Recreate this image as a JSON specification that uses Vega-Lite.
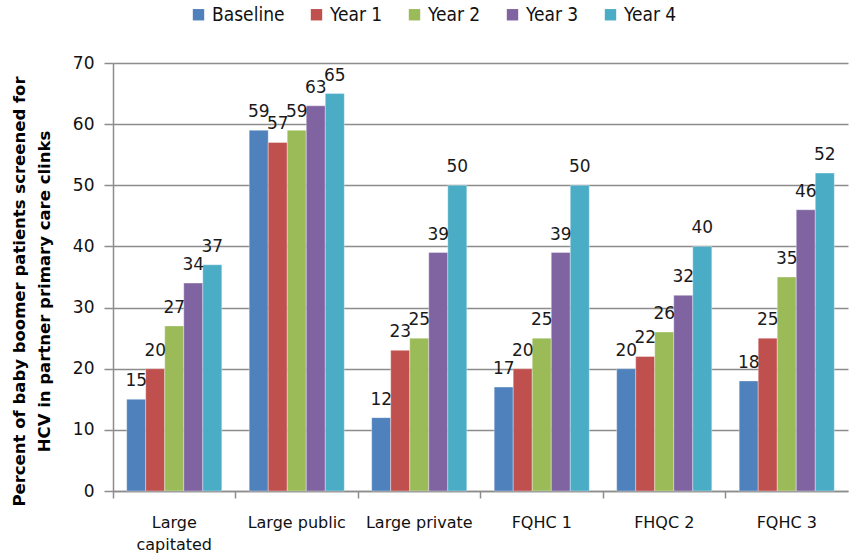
{
  "$schema": "https://vega.github.io/schema/vega-lite/v6.json",
  "width": 735,
  "height": 428,
  "autosize": {"type": "none"},
  "padding": {"left": 113, "top": 63, "right": 3, "bottom": 69},
  "background": "white",
  "config": {
    "view": {"stroke": null},
    "font": "DejaVu Sans"
  },
  "data": {
    "values": [
      {"clinic": "Large capitated", "period": "Baseline", "value": 15},
      {"clinic": "Large capitated", "period": "Year 1", "value": 20},
      {"clinic": "Large capitated", "period": "Year 2", "value": 27},
      {"clinic": "Large capitated", "period": "Year 3", "value": 34},
      {"clinic": "Large capitated", "period": "Year 4", "value": 37},
      {"clinic": "Large public", "period": "Baseline", "value": 59},
      {"clinic": "Large public", "period": "Year 1", "value": 57},
      {"clinic": "Large public", "period": "Year 2", "value": 59},
      {"clinic": "Large public", "period": "Year 3", "value": 63},
      {"clinic": "Large public", "period": "Year 4", "value": 65},
      {"clinic": "Large private", "period": "Baseline", "value": 12},
      {"clinic": "Large private", "period": "Year 1", "value": 23},
      {"clinic": "Large private", "period": "Year 2", "value": 25},
      {"clinic": "Large private", "period": "Year 3", "value": 39},
      {"clinic": "Large private", "period": "Year 4", "value": 50},
      {"clinic": "FQHC 1", "period": "Baseline", "value": 17},
      {"clinic": "FQHC 1", "period": "Year 1", "value": 20},
      {"clinic": "FQHC 1", "period": "Year 2", "value": 25},
      {"clinic": "FQHC 1", "period": "Year 3", "value": 39},
      {"clinic": "FQHC 1", "period": "Year 4", "value": 50},
      {"clinic": "FHQC 2", "period": "Baseline", "value": 20},
      {"clinic": "FHQC 2", "period": "Year 1", "value": 22},
      {"clinic": "FHQC 2", "period": "Year 2", "value": 26},
      {"clinic": "FHQC 2", "period": "Year 3", "value": 32},
      {"clinic": "FHQC 2", "period": "Year 4", "value": 40},
      {"clinic": "FQHC 3", "period": "Baseline", "value": 18},
      {"clinic": "FQHC 3", "period": "Year 1", "value": 25},
      {"clinic": "FQHC 3", "period": "Year 2", "value": 35},
      {"clinic": "FQHC 3", "period": "Year 3", "value": 46},
      {"clinic": "FQHC 3", "period": "Year 4", "value": 52}
    ]
  },
  "encoding": {
    "x": {
      "field": "clinic",
      "type": "nominal",
      "sort": ["Large capitated", "Large public", "Large private", "FQHC 1", "FHQC 2", "FQHC 3"],
      "scale": {"paddingInner": 0, "paddingOuter": 0},
      "axis": {
        "title": null,
        "labelAngle": 0,
        "bandPosition": 0,
        "domainColor": "#8c8c8c",
        "domainWidth": 1.5,
        "tickColor": "#8c8c8c",
        "tickWidth": 1.5,
        "tickSize": 7,
        "labelPadding": 16,
        "labelFontSize": 16,
        "labelColor": "#111111",
        "labelLineHeight": 22,
        "labelExpr": "datum.label == 'Large capitated' ? ['Large', 'capitated'] : datum.label"
      }
    },
    "xOffset": {
      "field": "period",
      "type": "nominal",
      "sort": ["Baseline", "Year 1", "Year 2", "Year 3", "Year 4"],
      "scale": {"paddingInner": 0, "paddingOuter": 0.72}
    },
    "y": {
      "field": "value",
      "type": "quantitative",
      "scale": {"domain": [0, 70]},
      "axis": {
        "values": [0, 10, 20, 30, 40, 50, 60, 70],
        "title": ["Percent of baby boomer patients screened for", "HCV in partner primary care clinks"],
        "titleFontSize": 16.5,
        "titleFontWeight": "bold",
        "titleColor": "#000000",
        "titleLineHeight": 25,
        "titleBaseline": "top",
        "titleX": -102,
        "titleY": 228,
        "titleAngle": -90,
        "labelFontSize": 17,
        "labelColor": "#111111",
        "labelPadding": 10,
        "tickSize": 9,
        "tickColor": "#8c8c8c",
        "tickWidth": 1.5,
        "domainColor": "#8c8c8c",
        "domainWidth": 1.5,
        "grid": true,
        "gridColor": "#8c8c8c",
        "gridWidth": 1.5
      }
    }
  },
  "layer": [
    {
      "mark": {"type": "bar", "stroke": "#ffffff", "strokeOpacity": 0.35, "strokeWidth": 1},
      "encoding": {
        "color": {
          "field": "period",
          "type": "nominal",
          "scale": {
            "domain": ["Baseline", "Year 1", "Year 2", "Year 3", "Year 4"],
            "range": ["#4F81BD", "#C0504D", "#9BBB59", "#8064A2", "#4BACC6"]
          },
          "legend": {
            "title": null,
            "orient": "none",
            "direction": "horizontal",
            "legendX": 76,
            "legendY": -58,
            "symbolType": "square",
            "symbolSize": 130,
            "symbolStrokeWidth": 0,
            "labelFont": "DejaVu Sans Condensed",
            "labelFontSize": 19,
            "labelColor": "#111111",
            "labelOffset": 4,
            "columnPadding": 22
          }
        }
      }
    },
    {
      "mark": {"type": "text", "baseline": "bottom", "dy": -9, "fontSize": 17, "color": "#1a1a1a"},
      "encoding": {
        "text": {"field": "value", "type": "quantitative"}
      }
    }
  ]
}
